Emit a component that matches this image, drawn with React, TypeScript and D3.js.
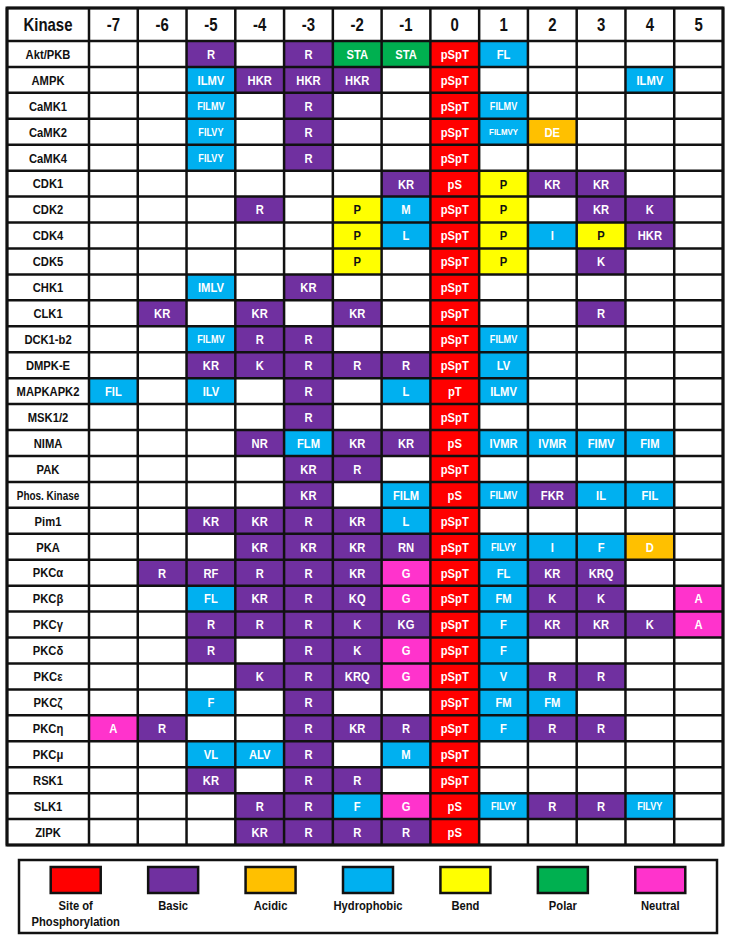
import { useEffect, useRef } from "react";
import * as d3 from "d3";

// positions relative to the phosphorylated residue
const positions = ["-7", "-6", "-5", "-4", "-3", "-2", "-1", "0", "1", "2", "3", "4", "5"];

const kinases = [
  "Akt/PKB", "AMPK", "CaMK1", "CaMK2", "CaMK4", "CDK1", "CDK2", "CDK4", "CDK5",
  "CHK1", "CLK1", "DCK1-b2", "DMPK-E", "MAPKAPK2", "MSK1/2", "NIMA", "PAK",
  "Phos. Kinase", "Pim1", "PKA", "PKCα", "PKCβ", "PKCγ", "PKCδ", "PKCε", "PKCζ",
  "PKCη", "PKCμ", "RSK1", "SLK1", "ZIPK",
];

// one row per kinase, "residues.class" (s site, b basic, a acidic, h hydrophobic, e bend, p polar, n neutral)
const motifs = [
  ["", "", "R.b", "", "R.b", "STA.p", "STA.p", "pSpT.s", "FL.h", "", "", "", ""],
  ["", "", "ILMV.h", "HKR.b", "HKR.b", "HKR.b", "", "pSpT.s", "", "", "", "ILMV.h", ""],
  ["", "", "FILMV.h", "", "R.b", "", "", "pSpT.s", "FILMV.h", "", "", "", ""],
  ["", "", "FILVY.h", "", "R.b", "", "", "pSpT.s", "FILMVY.h", "DE.a", "", "", ""],
  ["", "", "FILVY.h", "", "R.b", "", "", "pSpT.s", "", "", "", "", ""],
  ["", "", "", "", "", "", "KR.b", "pS.s", "P.e", "KR.b", "KR.b", "", ""],
  ["", "", "", "R.b", "", "P.e", "M.h", "pSpT.s", "P.e", "", "KR.b", "K.b", ""],
  ["", "", "", "", "", "P.e", "L.h", "pSpT.s", "P.e", "I.h", "P.e", "HKR.b", ""],
  ["", "", "", "", "", "P.e", "", "pSpT.s", "P.e", "", "K.b", "", ""],
  ["", "", "IMLV.h", "", "KR.b", "", "", "pSpT.s", "", "", "", "", ""],
  ["", "KR.b", "", "KR.b", "", "KR.b", "", "pSpT.s", "", "", "R.b", "", ""],
  ["", "", "FILMV.h", "R.b", "R.b", "", "", "pSpT.s", "FILMV.h", "", "", "", ""],
  ["", "", "KR.b", "K.b", "R.b", "R.b", "R.b", "pSpT.s", "LV.h", "", "", "", ""],
  ["FIL.h", "", "ILV.h", "", "R.b", "", "L.h", "pT.s", "ILMV.h", "", "", "", ""],
  ["", "", "", "", "R.b", "", "", "pSpT.s", "", "", "", "", ""],
  ["", "", "", "NR.b", "FLM.h", "KR.b", "KR.b", "pS.s", "IVMR.h", "IVMR.h", "FIMV.h", "FIM.h", ""],
  ["", "", "", "", "KR.b", "R.b", "", "pSpT.s", "", "", "", "", ""],
  ["", "", "", "", "KR.b", "", "FILM.h", "pS.s", "FILMV.h", "FKR.b", "IL.h", "FIL.h", ""],
  ["", "", "KR.b", "KR.b", "R.b", "KR.b", "L.h", "pSpT.s", "", "", "", "", ""],
  ["", "", "", "KR.b", "KR.b", "KR.b", "RN.b", "pSpT.s", "FILVY.h", "I.h", "F.h", "D.a", ""],
  ["", "R.b", "RF.b", "R.b", "R.b", "KR.b", "G.n", "pSpT.s", "FL.h", "KR.b", "KRQ.b", "", ""],
  ["", "", "FL.h", "KR.b", "R.b", "KQ.b", "G.n", "pSpT.s", "FM.h", "K.b", "K.b", "", "A.n"],
  ["", "", "R.b", "R.b", "R.b", "K.b", "KG.b", "pSpT.s", "F.h", "KR.b", "KR.b", "K.b", "A.n"],
  ["", "", "R.b", "", "R.b", "K.b", "G.n", "pSpT.s", "F.h", "", "", "", ""],
  ["", "", "", "K.b", "R.b", "KRQ.b", "G.n", "pSpT.s", "V.h", "R.b", "R.b", "", ""],
  ["", "", "F.h", "", "R.b", "", "", "pSpT.s", "FM.h", "FM.h", "", "", ""],
  ["A.n", "R.b", "", "", "R.b", "KR.b", "R.b", "pSpT.s", "F.h", "R.b", "R.b", "", ""],
  ["", "", "VL.h", "ALV.h", "R.b", "", "M.h", "pSpT.s", "", "", "", "", ""],
  ["", "", "KR.b", "", "R.b", "R.b", "", "pSpT.s", "", "", "", "", ""],
  ["", "", "", "R.b", "R.b", "F.h", "G.n", "pS.s", "FILVY.h", "R.b", "R.b", "FILVY.h", ""],
  ["", "", "", "KR.b", "R.b", "R.b", "R.b", "pS.s", "", "", "", "", ""],
];

const classKeys = ["s", "b", "a", "h", "e", "p", "n"];
const classLabels = ["Site of|Phosphorylation", "Basic", "Acidic", "Hydrophobic", "Bend", "Polar", "Neutral"];
const classColors = ["#FF0000", "#7030A0", "#FFC000", "#00B0F0", "#FFFF00", "#00B050", "#FF33CC"];

const FONT = "'Liberation Sans', Arial, sans-serif";
const SQUEEZE = 0.83; // narrow look of the original typeface

function App() {
  const ref = useRef(null);

  useEffect(() => {
    const svg = d3.select(ref.current);
    svg.selectAll("*").remove();

    const width = 733;
    const height = 942;
    svg.attr("width", width).attr("height", height);

    const left = 7;
    const nameRight = 89;
    const right = 723;
    const top = 8;
    const headerBottom = 41;
    const bottom = 845;

    const color = d3.scaleOrdinal(classKeys, classColors);

    const x = d3.scaleBand(positions, [nameRight, right]);
    const y = d3.scaleBand(kinases, [headerBottom, bottom]);

    const g = svg.append("g").attr("font-family", FONT).attr("font-weight", "bold");

    // texte centré, compressé horizontalement
    const label = (parent, tx, ty, str, size, fill = "#111") =>
      parent
        .append("text")
        .attr("transform", `translate(${tx},${ty}) scale(${SQUEEZE},1)`)
        .attr("text-anchor", "middle")
        .attr("font-size", size)
        .attr("fill", fill)
        .text(str);

    // header
    label(g, (left + nameRight) / 2, (top + headerBottom) / 2 + 6.5, "Kinase", 18);
    positions.forEach((p) => {
      label(g, x(p) + x.bandwidth() / 2, (top + headerBottom) / 2 + 6.5, p, 18);
    });

    // cells
    kinases.forEach((k, i) => {
      const cy = y(k);
      label(g, (left + nameRight) / 2, cy + y.bandwidth() / 2 + 4.8, k, k.length > 10 ? 12 : 13.5);

      motifs[i].forEach((cell, j) => {
        if (!cell) return;
        const [res, cls] = cell.split(".");
        const p = positions[j];
        g.append("rect")
          .attr("x", x(p)).attr("y", cy)
          .attr("width", x.bandwidth()).attr("height", y.bandwidth())
          .attr("fill", color(cls));
        const fs = res.length >= 6 ? 9.5 : res.length === 5 ? 11 : 13.5;
        label(
          g,
          x(p) + x.bandwidth() / 2,
          cy + y.bandwidth() / 2 + fs * 0.36,
          res,
          fs,
          cls === "e" ? "#111" : "white"
        );
      });
    });

    // grid lines
    const grid = g.append("g").attr("stroke", "#111").attr("stroke-width", 2.5);
    const xs = [left, nameRight, ...positions.slice(1).map((p) => x(p)), right];
    const ys = [top, headerBottom, ...kinases.slice(1).map((k) => y(k)), bottom];
    xs.forEach((v) => {
      grid.append("line").attr("x1", v).attr("x2", v).attr("y1", top).attr("y2", bottom);
    });
    ys.forEach((v) => {
      grid.append("line").attr("x1", left).attr("x2", right).attr("y1", v).attr("y2", v);
    });
    g.append("rect")
      .attr("x", left).attr("y", top)
      .attr("width", right - left).attr("height", bottom - top)
      .attr("fill", "none").attr("stroke", "#111").attr("stroke-width", 3);

    // legend
    const legend = g.append("g");
    legend.append("rect")
      .attr("x", 19).attr("y", 860).attr("width", 698).attr("height", 73)
      .attr("fill", "white").attr("stroke", "#111").attr("stroke-width", 2.5);

    const lx = d3.scaleBand(classKeys, [27, 709]);
    classKeys.forEach((c, i) => {
      const cx = lx(c) + lx.bandwidth() / 2;
      legend.append("rect")
        .attr("x", cx - 25).attr("y", 867).attr("width", 50).attr("height", 26)
        .attr("fill", classColors[i]).attr("stroke", "#111").attr("stroke-width", 2.5);
      classLabels[i].split("|").forEach((line, li) => {
        label(legend, cx, 910 + li * 16, line, 13.5);
      });
    });
  }, []);

  return <svg ref={ref} style={{ position: "absolute", left: 0, top: 0, background: "white" }}></svg>;
}

export default App;
